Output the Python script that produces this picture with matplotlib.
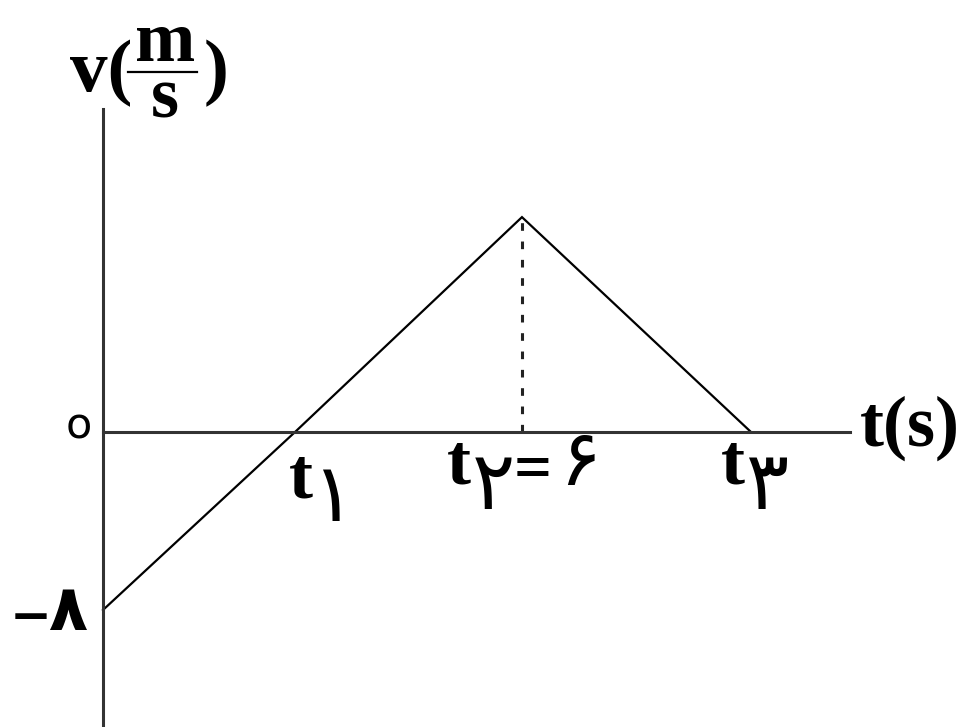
import matplotlib
matplotlib.use("Agg")
from matplotlib import pyplot as plt

# velocity-time graph, values
t_pts = [0, 2.75, 6, 9.28]
v_pts = [-8, 0, 9.66, 0]
t_peak = 6
v_peak = 9.66

W, H = 963, 727
SERIF = ["Liberation Serif", "DejaVu Sans"]
ARAB = ["DejaVu Sans"]


def px(x, y):
    # pixel position -> figure fraction
    return x / W, 1 - y / H


def label(x, y, s, size, family=SERIF, weight="bold", **kw):
    fx, fy = px(x, y)
    fig.text(fx, fy, s, fontsize=size, family=family, weight=weight,
             va="baseline", **kw)


fig = plt.figure(figsize=(W / 100, H / 100), dpi=100)
ax = fig.add_axes([0, 0, 1, 1])
ax.set_xlim(-1.475, 12.316)
ax.set_ylim(-13.26, 19.42)

# axes through the origin
for side in ["top", "right"]:
    ax.spines[side].set_visible(False)
ax.spines["left"].set_position(("data", 0))
ax.spines["bottom"].set_position(("data", 0))
ax.spines["left"].set_bounds(-13.26, 14.52)
ax.spines["bottom"].set_bounds(0, 10.70)
for side in ["left", "bottom"]:
    ax.spines[side].set_color("#333333")
    ax.spines[side].set_linewidth(2.2)
ax.set_xticks([])
ax.set_yticks([])
ax.patch.set_alpha(0)

ax.plot(t_pts, v_pts, color="black", lw=1.6, solid_joinstyle="miter")
ax.plot([t_peak, t_peak], [0, v_peak], color="#222222", lw=2.2,
        linestyle=(0, (2.5, 3.5)))

# y-axis label v(m/s)
label(70, 91, "v(", 54)
label(165, 118, "m\ns", 52, ha="center", linespacing=0.84)
label(204, 91, ")", 54)
fx0, fy0 = px(128, 72)
fx1, _ = px(197, 72)
fig.add_artist(plt.Line2D([fx0, fx1], [fy0, fy0], color="black", lw=1.6,
                          transform=fig.transFigure))

# x-axis label
label(860, 446, "t(s)", 52)

# tick-like labels
label(66, 439, "o", 31, family=["DejaVu Sans"], weight="normal")
label(10, 632, "−", 36, family=["DejaVu Sans"])
label(48, 630, "۸", 46, family=ARAB)

label(289, 497, "t", 52)
label(311, 521, "۱", 58, family=ARAB, weight="normal")

label(447, 483, "t", 52)
label(472, 509, "۲", 58, family=ARAB, weight="normal")
label(514, 489, "=", 48, family=SERIF)
label(559, 485, "۶", 56, family=ARAB, weight="normal")

label(721, 483, "t", 52)
label(745, 509, "۳", 58, family=ARAB, weight="normal")

fig.savefig("out.png", dpi=100)
